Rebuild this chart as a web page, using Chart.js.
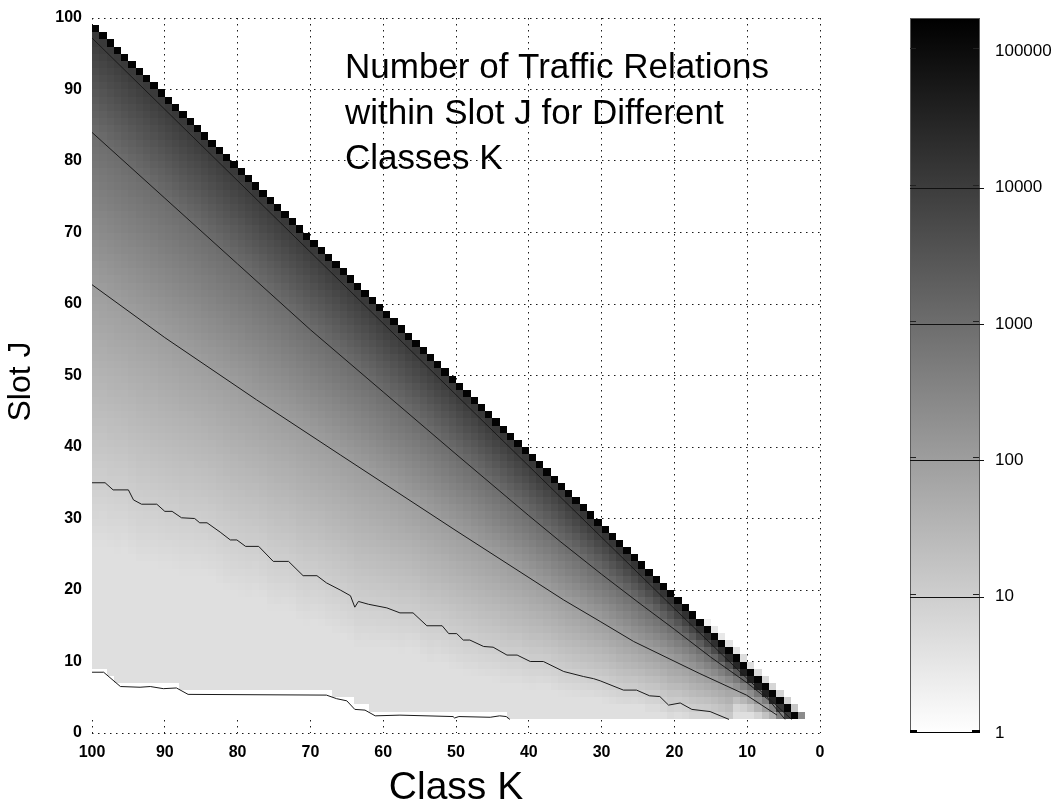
<!DOCTYPE html>
<html>
<head>
<meta charset="utf-8">
<title>Number of Traffic Relations within Slot J</title>
<script src="https://cdn.jsdelivr.net/npm/chart.js@4.4.1/dist/chart.umd.min.js"></script>
<style>
  html, body { margin: 0; padding: 0; background: #ffffff; }
  #wrap { width: 1055px; height: 809px; position: relative; }
</style>
</head>
<body>
<div id="wrap"><canvas id="chart" width="1055" height="809"></canvas></div>
<script>
// ---- axis ticks -------------------------------------------------------
const classTicks = [100, 90, 80, 70, 60, 50, 40, 30, 20, 10, 0];
const slotTicks = [0, 10, 20, 30, 40, 50, 60, 70, 80, 90, 100];
const countTicks = [1, 10, 100, 1000, 10000, 100000];
const countTop = 176000;          // top of the colour bar

// ---- cell grid ---------------------------------------------------------
const firstClass = 3;             // column K spans [K-1, K]
const lastClass = 100;
const firstSlot = 3;              // row J spans [J-1, J]
const diagonalCount = 150000;     // cell J = K-1 of every class
const floorCount = 4.5;           // lightest shade of a non-empty slot

// extra cell J = K of the small classes
const topCellClasses = [3, 4, 5, 6, 7, 8, 9, 10, 11, 12, 13, 14, 15, 16];
const topCellCounts  = [230, 14, 10, 8, 7, 6, 6, 5, 5, 4, 4, 3, 3, 2];

// ---- isolines as [class K, slot J] --------------------------------------
const isoLevels = [1, 10, 100, 1000, 10000];
const iso1 = [[100, 8.5], [98.4, 8.5], [96.1, 6.5], [93.4, 6.4], [92, 6.5], [90.2, 6.2],
  [88.4, 6.3], [86.8, 5.4], [67.8, 5.3], [66.4, 4.8], [65, 4.5], [63.9, 3.3], [62.5, 3.2],
  [61.1, 2.4], [57.7, 2.5], [50.4, 2.3], [50.2, 2.1], [49.6, 2.3], [45.3, 2.2], [44, 2.4],
  [43.1, 2.3], [42.6, 1.9]];
const iso10 = [[100, 35], [98.2, 35], [97.1, 34], [95, 34], [94.3, 32.6], [93.2, 32],
  [91.1, 32], [90, 31], [89, 31], [87.7, 30.1], [85.9, 30], [85.2, 29.4], [84.2, 29.4],
  [82.4, 28.1], [81, 27], [80.1, 27], [78.9, 26.1], [77.1, 26.1], [75.1, 24], [73, 24],
  [71, 22], [69.1, 22], [67.8, 21], [65.9, 20], [64.5, 19.2], [63.9, 17.6], [63.4, 18.4],
  [62, 18], [59.5, 17.5], [57.7, 16.8], [55.9, 16.8], [54, 15], [51.9, 15], [51, 13.9],
  [49.9, 13.9], [49, 13], [48.1, 13], [46.2, 12.1], [44.9, 12], [43, 10.9], [41.6, 10.9],
  [39.8, 10], [38, 10], [35.2, 8.6], [32.5, 7.9], [31.1, 7.6], [30.2, 7.3], [27, 6],
  [25.2, 6], [23.4, 5.2], [22, 5.1], [20.8, 3.9], [19.2, 4.2], [17.6, 3.3], [15.1, 3],
  [12.5, 1.9]];
const iso100 = [[100, 62.7], [90, 55.3], [77.4, 46.6], [65.9, 38.9], [50, 28.3], [35.2, 18.6],
  [30.2, 15.6], [25.6, 12.8], [16.5, 8.3], [10.1, 5.3], [5.9, 2.5]];
const iso1000 = [[100, 84], [90, 74.8], [80, 65.6], [70, 56.4], [60, 47.7], [50, 39],
  [40, 30.4], [35.7, 26.8], [30, 22.2], [25, 18.3], [20, 14.5], [15, 10.6], [10, 7],
  [7, 4.6], [4.8, 1.9]];
const iso10000 = [[100, 97.2], [50, 47.3], [20, 17.4], [10, 7.6], [3.9, 1.9]];
const isolines = [iso1, iso10, iso100, iso1000, iso10000];

// ---- helpers -----------------------------------------------------------
const logTop = Math.log10(countTop);
const FONT = '"Liberation Sans", Arial, Helvetica, sans-serif';

function slotAt(line, k) {
  for (let i = 0; i < line.length - 1; i++) {
    const a = line[i], b = line[i + 1];
    if (k <= a[0] && k >= b[0]) {
      if (a[0] === b[0]) return a[1];
      return a[1] + (b[1] - a[1]) * (a[0] - k) / (a[0] - b[0]);
    }
  }
  return null;
}

// log10 of the count in cell (column k, row j); null means an empty slot
function cellLog(k, j) {
  if (j === k - 1) return Math.log10(diagonalCount);
  const kc = k - 0.5, jc = j - 0.5;
  const edge = slotAt(iso1, kc);
  if (edge !== null && jc < edge + 0.6) return null;
  const knots = [];
  for (let i = 1; i < isolines.length; i++) {
    const s = slotAt(isolines[i], kc);
    if (s !== null) knots.push([s, Math.log10(isoLevels[i])]);
  }
  const lo = Math.log10(floorCount);
  if (knots.length === 0) return lo;
  if (knots.length === 1) return Math.max(lo, knots[0][1] + (jc - knots[0][0]) * 0.4);
  let v;
  if (jc <= knots[0][0]) {
    const [a, b] = knots;
    v = a[1] + (jc - a[0]) * (b[1] - a[1]) / (b[0] - a[0]);
  } else if (jc >= knots[knots.length - 1][0]) {
    const a = knots[knots.length - 2], b = knots[knots.length - 1];
    v = b[1] + (jc - b[0]) * (b[1] - a[1]) / (b[0] - a[0]);
  } else {
    for (let i = 0; i < knots.length - 1; i++) {
      const a = knots[i], b = knots[i + 1];
      if (jc >= a[0] && jc <= b[0]) { v = a[1] + (jc - a[0]) * (b[1] - a[1]) / (b[0] - a[0]); break; }
    }
  }
  return Math.min(4.6, Math.max(lo, v));
}

function grey(logValue) {
  if (logValue === null) return '#ffffff';
  const t = Math.max(0, Math.min(1, logValue / logTop));
  const g = Math.round(255 * (1 - t));
  return `rgb(${g},${g},${g})`;
}

// the cell table: {k, j, log}
const cells = [];
for (let k = firstClass; k <= lastClass; k++) {
  for (let j = firstSlot; j <= k - 1; j++) cells.push({ k, j, log: cellLog(k, j) });
}
topCellClasses.forEach((k, i) => cells.push({ k, j: k, log: Math.log10(topCellCounts[i]) }));

// ---- plugins -----------------------------------------------------------
const heatmap = {
  id: 'heatmap',
  beforeDatasetsDraw(chart) {
    const { ctx, scales: { x, y } } = chart;
    ctx.save();
    for (const c of cells) {
      const x0 = Math.round(x.getPixelForValue(c.k));
      const x1 = Math.round(x.getPixelForValue(c.k - 1));
      const y0 = Math.round(y.getPixelForValue(c.j));
      const y1 = Math.round(y.getPixelForValue(c.j - 1));
      ctx.fillStyle = grey(c.log);
      ctx.fillRect(x0, y0, x1 - x0, y1 - y0);
    }
    ctx.restore();
  }
};

const colourBar = {
  id: 'colourBar',
  afterDraw(chart) {
    const { ctx } = chart;
    const cb = chart.scales.cb;
    const left = cb.left + 90, right = cb.left + 160;
    const yBottom = cb.getPixelForValue(1), yTop = cb.getPixelForValue(countTop);
    ctx.save();
    const grad = ctx.createLinearGradient(0, yBottom, 0, yTop);
    grad.addColorStop(0, '#ffffff');
    grad.addColorStop(1, '#000000');
    ctx.fillStyle = grad;
    ctx.fillRect(left, yTop, right - left, yBottom - yTop);
    ctx.strokeStyle = '#5a5a5a';
    ctx.lineWidth = 1;
    ctx.strokeRect(left + 0.5, yTop + 0.5, right - left - 1, yBottom - yTop - 1);
    // small tick marks on both edges
    ctx.fillStyle = '#222222';
    countTicks.forEach(v => {
      const yy = Math.round(cb.getPixelForValue(v)) - 3;
      ctx.fillRect(left, yy, 6, 1);
      ctx.fillRect(right - 7, yy, 6, 1);
    });
    // isoline levels
    ctx.strokeStyle = '#111111';
    isoLevels.slice(1).forEach(v => {
      const yy = Math.round(cb.getPixelForValue(v)) + 0.5;
      ctx.beginPath();
      ctx.moveTo(left, yy);
      ctx.lineTo(right + 4, yy);
      ctx.stroke();
    });
    // end marks at the bottom
    ctx.fillStyle = '#000000';
    const yb = Math.round(yBottom);
    ctx.fillRect(left, yb - 3, 7, 3);
    ctx.fillRect(right - 8, yb - 3, 8, 3);
    ctx.fillRect(left, yb - 1, right - left, 1);
    ctx.restore();
  }
};

const captions = {
  id: 'captions',
  afterDatasetsDraw(chart) {
    const { ctx, chartArea } = chart;
    ctx.save();
    ctx.font = `35px ${FONT}`;
    ctx.fillStyle = '#000000';
    ctx.textAlign = 'left';
    ctx.textBaseline = 'alphabetic';
    const lines = ['Number of Traffic Relations', 'within Slot J for Different', 'Classes K'];
    lines.forEach((t, i) => ctx.fillText(t, 345, 78 + i * 45.5));
    // y-axis title
    ctx.translate(21, (chartArea.top + chartArea.bottom) / 2 + 6);
    ctx.rotate(-Math.PI / 2);
    ctx.font = `32px ${FONT}`;
    ctx.textAlign = 'center';
    ctx.textBaseline = 'middle';
    ctx.fillText('Slot J', 0, 0);
    ctx.restore();
  }
};

// ---- chart -------------------------------------------------------------
const lineDatasets = isolines.map((line, i) => ({
  label: String(isoLevels[i]),
  data: line.map(([k, j]) => ({ x: k, y: j })),
  showLine: true,
  borderColor: '#1a1a1a',
  borderWidth: 1,
  pointRadius: 0,
  tension: 0,
  fill: false
}));

const dotted = { display: false, dash: [1.5, 4.5] };
const noPadding = s => { s.paddingTop = 0; s.paddingBottom = 0; s.paddingLeft = 0; s.paddingRight = 0; };

new Chart(document.getElementById('chart'), {
  type: 'scatter',
  data: { datasets: lineDatasets },
  options: {
    responsive: false,
    animation: false,
    devicePixelRatio: 1,
    layout: { padding: { top: 18, left: 0, right: 0, bottom: 0 } },
    plugins: { legend: { display: false }, tooltip: { enabled: false } },
    scales: {
      x: {
        type: 'linear', reverse: true, min: 0, max: 100, position: 'bottom',
        afterBuildTicks: s => { s.ticks = classTicks.map(v => ({ value: v })); },
        afterFit: s => { s.height = 76; noPadding(s); },
        ticks: { color: '#000', font: { family: FONT, size: 16, weight: 'bold' }, padding: 10, maxRotation: 0 },
        grid: { color: '#1a1a1a', lineWidth: 1, drawTicks: false },
        border: dotted,
        title: { display: true, text: 'Class K', color: '#000',
          font: { family: FONT, size: 39, lineHeight: 1 },
          padding: { top: 0, bottom: 1 } }
      },
      y: {
        type: 'linear', min: 0, max: 100, position: 'left',
        afterBuildTicks: s => { s.ticks = slotTicks.map(v => ({ value: v })); },
        afterFit: s => { s.width = 92; noPadding(s); },
        ticks: { color: '#000', font: { family: FONT, size: 16, weight: 'bold' }, padding: 10 },
        grid: { color: '#1a1a1a', lineWidth: 1, drawTicks: false },
        border: dotted,
        title: { display: false }
      },
      cb: {
        type: 'logarithmic', min: 1, max: countTop, position: 'right',
        afterBuildTicks: s => { s.ticks = countTicks.map(v => ({ value: v })); },
        afterFit: s => { s.width = 235; noPadding(s); },
        ticks: { color: '#000', font: { family: FONT, size: 17 },
          padding: 175, callback: v => String(v) },
        grid: { display: false, drawOnChartArea: false, drawTicks: false },
        border: { display: false }
      }
    }
  },
  plugins: [heatmap, colourBar, captions]
});
</script>
</body>
</html>
